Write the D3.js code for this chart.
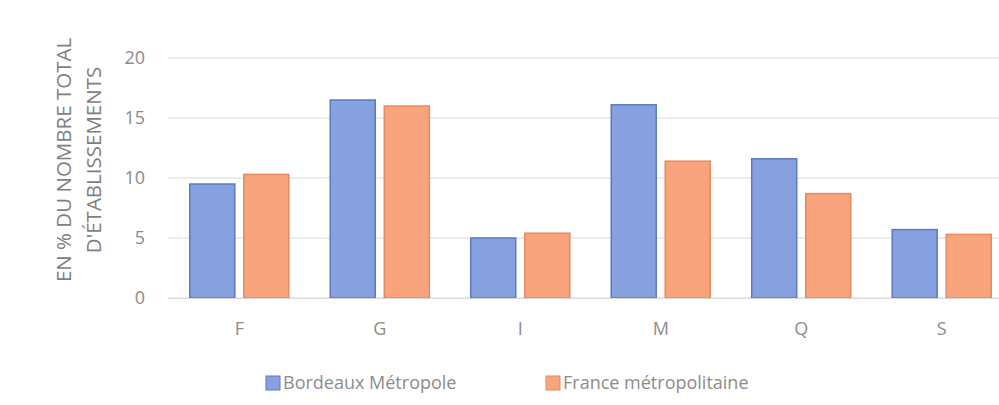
<!DOCTYPE html>
<html>
<head>
<meta charset="utf-8">
<script src="https://cdn.jsdelivr.net/npm/d3@7"></script>
<style>
  body { margin: 0; background: #fff; }
  text { font-family: "Open Sans", sans-serif; }
</style>
</head>
<body>
<script>
// categories and series values
var categories = ["F", "G", "I", "M", "Q", "S"];
var seriesNames = ["Bordeaux Métropole", "France métropolitaine"];
var bordeaux = [9.5, 16.5, 5.0, 16.1, 11.6, 5.7];
var france = [10.3, 16.0, 5.4, 11.4, 8.7, 5.3];
var yTicks = [0, 5, 10, 15, 20];

var width = 999, height = 405;
var fills = ["#87a1e0", "#f9a47d"];
var strokes = ["#5c79c6", "#e8895c"];

var svg = d3.select("body").append("svg")
    .attr("width", width)
    .attr("height", height);

var x = d3.scaleBand()
    .domain(categories)
    .range([168, 1013])
    .paddingInner(0.295)
    .paddingOuter(0.155);

var xInner = d3.scaleBand()
    .domain(seriesNames)
    .range([0, x.bandwidth()])
    .paddingInner(0.167);

var y = d3.scaleLinear()
    .domain([0, 20])
    .range([298, 58]);

// gridlines
svg.append("g")
    .selectAll("line")
    .data(yTicks)
    .enter().append("line")
    .attr("x1", 168)
    .attr("x2", width)
    .attr("y1", function(d) { return y(d); })
    .attr("y2", function(d) { return y(d); })
    .attr("stroke", "#d9d9d9")
    .attr("stroke-width", 1.2);

// y axis labels
var yAxis = d3.axisLeft(y).tickValues(yTicks).tickSize(0).tickPadding(6);
var gy = svg.append("g")
    .attr("transform", "translate(151,0)")
    .call(yAxis);
gy.select(".domain").remove();
gy.selectAll("text")
    .attr("fill", "#8c8c8c")
    .style("font-size", "18px");

// bars
var rows = categories.map(function(c, i) {
  return [
    { cat: c, s: 0, v: bordeaux[i] },
    { cat: c, s: 1, v: france[i] }
  ];
});

svg.append("g")
  .selectAll("g")
  .data(rows)
  .enter().append("g")
    .attr("transform", function(d) { return "translate(" + x(d[0].cat) + ",0)"; })
  .selectAll("rect")
  .data(function(d) { return d; })
  .enter().append("rect")
    .attr("x", function(d) { return xInner(seriesNames[d.s]); })
    .attr("y", function(d) { return y(d.v); })
    .attr("width", xInner.bandwidth())
    .attr("height", function(d) { return y(0) - y(d.v); })
    .attr("fill", function(d) { return fills[d.s]; })
    .attr("stroke", function(d) { return strokes[d.s]; })
    .attr("stroke-width", 1.5);

// x axis
var xAxis = d3.axisBottom(x).tickSize(0).tickPadding(24);
var gx = svg.append("g")
    .attr("transform", "translate(0,298)")
    .call(xAxis);
gx.select(".domain")
    .attr("stroke", "#d9d9d9")
    .attr("stroke-width", 1.2);
gx.selectAll("text")
    .attr("fill", "#8c8c8c")
    .style("font-size", "18px");

// y axis title
var yTitle = svg.append("text")
    .attr("transform", "translate(80,160) rotate(-90)")
    .attr("text-anchor", "middle")
    .attr("fill", "#7f7f7f")
    .style("font-size", "20.5px");
yTitle.append("tspan").attr("x", 0).attr("dy", "-0.45em").text("EN % DU NOMBRE TOTAL");
yTitle.append("tspan").attr("x", 0).attr("dy", "1.45em").text("D'ÉTABLISSEMENTS");

// legend
var legend = svg.append("g")
    .selectAll("g")
    .data(seriesNames)
    .enter().append("g")
    .attr("transform", function(d, i) { return "translate(" + [266, 546][i] + ",383)"; });
legend.append("rect")
    .attr("x", 0).attr("y", -7)
    .attr("width", 14).attr("height", 14)
    .attr("fill", function(d, i) { return fills[i]; })
    .attr("stroke", function(d, i) { return strokes[i]; });
legend.append("text")
    .attr("x", 17)
    .attr("dy", "0.35em")
    .attr("fill", "#8c8c8c")
    .style("font-size", "18px")
    .text(function(d) { return d; });
</script>
</body>
</html>
